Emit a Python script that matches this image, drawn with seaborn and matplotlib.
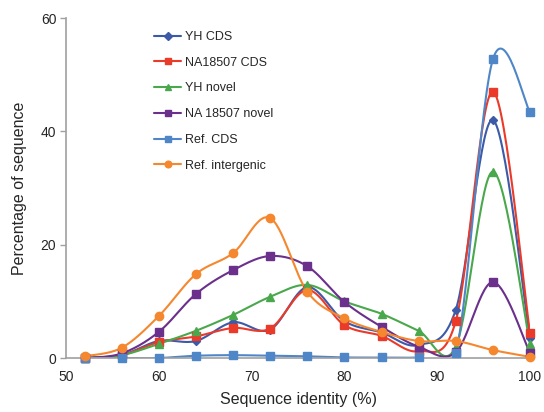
import numpy as np
import pandas as pd
import matplotlib
matplotlib.use("Agg")
import matplotlib.pyplot as plt
import seaborn as sns
from matplotlib.lines import Line2D

identity = [52, 56, 60, 64, 68, 72, 76, 80, 84, 88, 92, 96, 100]
yh_cds = [0.0, 0.5, 3.0, 3.0, 6.3, 5.0, 12.5, 6.5, 4.5, 2.3, 8.5, 42.0, 3.5]
na_cds = [0.0, 0.5, 2.8, 3.8, 5.3, 5.2, 12.0, 5.8, 3.9, 1.2, 6.5, 47.0, 4.5]
yh_novel = [0.0, 0.5, 2.5, 4.8, 7.6, 10.8, 12.9, 10.0, 7.8, 4.8, 2.0, 32.9, 2.5]
na_novel = [0.0, 0.8, 4.6, 11.3, 15.5, 18.0, 16.2, 9.9, 5.5, 2.0, 1.0, 13.4, 0.9]
ref_cds = [0.0, 0.0, 0.0, 0.4, 0.5, 0.4, 0.3, 0.1, 0.1, 0.1, 0.8, 52.7, 43.4]
ref_inter = [0.3, 1.8, 7.4, 14.8, 18.5, 24.7, 11.7, 7.0, 4.6, 3.0, 3.0, 1.4, 0.2]

series_names = ["YH CDS", "NA18507 CDS", "YH novel", "NA 18507 novel", "Ref. CDS", "Ref. intergenic"]
series_vals = [yh_cds, na_cds, yh_novel, na_novel, ref_cds, ref_inter]
colors = ["#3d5aa9", "#ea3a2a", "#4aa84c", "#6b2f8c", "#4f86c8", "#f5872e"]
markers = ["D", "s", "^", "s", "s", "o"]
msizes = [4.5, 6, 5.5, 5.5, 5.5, 6]


def catmull_rom(x, y, n=30, tension=0.5):
    x = np.asarray(x, float)
    y = np.asarray(y, float)
    px = np.concatenate([[x[0]], x, [x[-1]]])
    py = np.concatenate([[y[0]], y, [y[-1]]])
    xs, ys = [], []
    t = np.linspace(0, 1, n, endpoint=False)
    for i in range(1, len(px) - 2):
        p0x, p1x, p2x, p3x = px[i - 1], px[i], px[i + 1], px[i + 2]
        p0y, p1y, p2y, p3y = py[i - 1], py[i], py[i + 1], py[i + 2]
        m1x = tension * (p2x - p0x); m2x = tension * (p3x - p1x)
        m1y = tension * (p2y - p0y); m2y = tension * (p3y - p1y)
        h00 = 2 * t**3 - 3 * t**2 + 1
        h10 = t**3 - 2 * t**2 + t
        h01 = -2 * t**3 + 3 * t**2
        h11 = t**3 - t**2
        xs.append(h00 * p1x + h10 * m1x + h01 * p2x + h11 * m2x)
        ys.append(h00 * p1y + h10 * m1y + h01 * p2y + h11 * m2y)
    xs.append([x[-1]]); ys.append([y[-1]])
    return np.concatenate(xs), np.concatenate(ys)


sns.set_style("white")
plt.rcParams["font.family"] = ["Liberation Sans", "DejaVu Sans"]

fig = plt.figure(figsize=(5.44, 4.12), dpi=100)
ax = fig.add_axes([66 / 544, 1 - 358 / 412, (530 - 66) / 544, (358 - 18) / 412])

handles = []
for name, vals, c, m, ms in zip(series_names, series_vals, colors, markers, msizes):
    sx, sy = catmull_rom(identity, vals)
    smooth = pd.DataFrame({"x": sx, "y": sy})
    sns.lineplot(data=smooth, x="x", y="y", ax=ax, color=c, lw=1.5, sort=False,
                 estimator=None, zorder=2)
    pts = pd.DataFrame({"x": identity, "y": vals})
    ax.plot(pts["x"], pts["y"], linestyle="none", marker=m, color=c, ms=ms,
            mec=c, zorder=3, clip_on=False)
    handles.append(Line2D([0], [0], color=c, lw=1.5, marker=m, ms=ms * 0.8, label=name))

ax.set_xlim(50, 100)
ax.set_ylim(0, 60)
ax.set_xticks([50, 60, 70, 80, 90, 100])
ax.set_yticks([0, 20, 40, 60])
for s in ["top", "right"]:
    ax.spines[s].set_visible(False)
for s in ["left", "bottom"]:
    ax.spines[s].set_color("#a0a0a0")
    ax.spines[s].set_linewidth(1.2)
ax.tick_params(axis="y", which="both", left=True, length=4, width=1, color="#a0a0a0",
               labelsize=10, pad=3)
ax.tick_params(axis="x", which="both", bottom=False, labelsize=10, pad=5)
ax.set_xlabel("Sequence identity (%)", fontsize=11.5, labelpad=6)
ax.set_ylabel("Percentage of sequence", fontsize=11.5, labelpad=10)

leg = ax.legend(handles=handles, loc="upper left", bbox_to_anchor=(0.165, 0.995),
                frameon=False, fontsize=9, handlelength=2.2, labelspacing=1.1,
                handletextpad=0.3)

fig.savefig("out.png", dpi=100)
